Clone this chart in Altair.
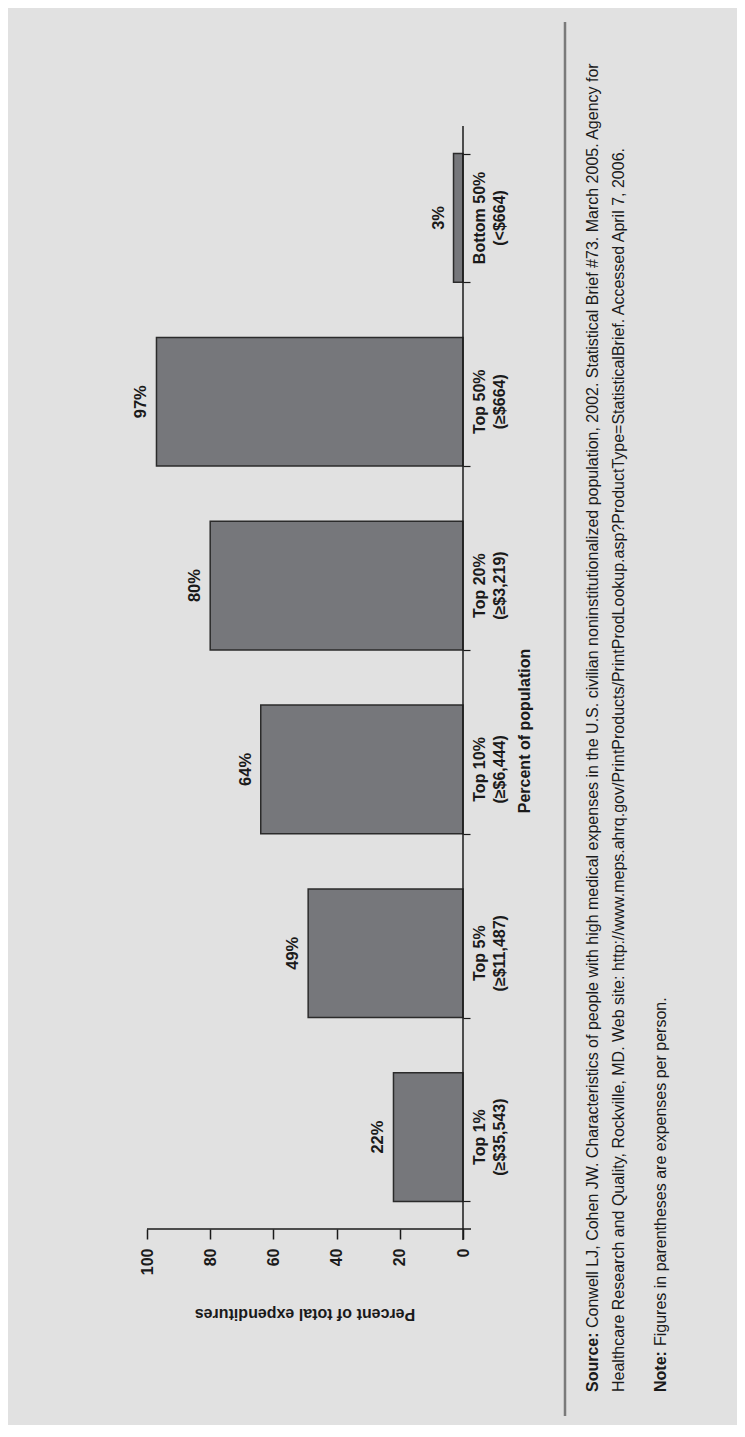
import altair as alt
import pandas as pd

# ---- data ----
groups = ["Bottom 50%", "Top 50%", "Top 20%", "Top 10%", "Top 5%", "Top 1%"]
thresholds = ["(<$664)", "(≥$664)", "(≥$3,219)", "(≥$6,444)", "(≥$11,487)", "(≥$35,543)"]
shares = [3, 97, 80, 64, 49, 22]
value_ticks = [0, 20, 40, 60, 80, 100]

source_bold = "Source:"
source_line1 = ("Conwell LJ, Cohen JW. Characteristics of people with high medical expenses in the U.S. "
                "civilian noninstitutionalized population, 2002. Statistical Brief #73. March 2005. Agency for")
source_line2 = ("Healthcare Research and Quality, Rockville, MD. Web site: http://www.meps.ahrq.gov/PrintProducts/"
                "PrintProdLookup.asp?ProductType=StatisticalBrief. Accessed April 7, 2006.")
note_bold = "Note:"
note_text = "Figures in parentheses are expenses per person."
x_title = "Percent of population"
y_title = "Percent of total expenditures"

df = pd.DataFrame({"group": groups, "threshold": thresholds, "share": shares})
df["label"] = df["share"].astype(str) + "%"
df["cat_label"] = df["group"] + "\n" + df["threshold"]

W, H = 316, 1103
FONT = "Liberation Sans"
INK = "#1a1a1a"

xscale = alt.Scale(domain=[0, 100], reverse=True)
yscale = alt.Scale(domain=groups, paddingInner=0.3, paddingOuter=0.15)

base = alt.Chart(df)

bars = base.mark_bar(color="#76777b", stroke="#2b2b2b", strokeWidth=1.5).encode(
    x=alt.X("share:Q", scale=xscale,
            axis=alt.Axis(values=value_ticks, title=None, labelAngle=270, labelAlign="right",
                          labelBaseline="middle", labelFont=FONT, labelFontSize=16,
                          labelFontWeight="bold", labelColor=INK, tickColor=INK, tickSize=10,
                          tickWidth=1.5, labelPadding=9, domain=False, grid=False)),
    y=alt.Y("group:N", scale=yscale, sort=groups,
            axis=alt.Axis(orient="right", labels=False, title=None, tickBand="extent",
                          tickSize=7, tickColor=INK, tickWidth=1.2, domain=False, grid=False)),
)

value_labels = base.mark_text(angle=270, align="center", baseline="middle", dy=-15,
                              font=FONT, fontSize=16.5, fontWeight="bold", color=INK).encode(
    x=alt.X("share:Q", scale=xscale),
    y=alt.Y("group:N", scale=yscale, sort=groups),
    text="label:N",
)

cat_labels = base.mark_text(angle=270, align="center", baseline="top", lineBreak="\n",
                            lineHeight=20, font=FONT, fontSize=16, fontWeight="bold",
                            color=INK).encode(
    x=alt.value(W + 9),
    y=alt.Y("group:N", scale=yscale, sort=groups),
    text="cat_label:N",
)

one = alt.Chart(pd.DataFrame({"k": [0]}))

x_axis_line = one.mark_rule(color=INK, strokeWidth=1.5).encode(
    x=alt.value(0), x2=alt.value(W + 8), y=alt.value(H))
y_axis_line = one.mark_rule(color=INK, strokeWidth=1.5).encode(
    x=alt.value(W), y=alt.value(0), y2=alt.value(H + 11))
separator = one.mark_rule(color="#7a7a7a", strokeWidth=2.5).encode(
    x=alt.value(418), y=alt.value(-104), y2=alt.value(1290))

ytitle = one.mark_text(angle=180, align="center", baseline="middle", font=FONT, fontSize=16,
                       fontWeight="bold", color=INK).encode(
    x=alt.value(158), y=alt.value(1188), text=alt.value(y_title))
xtitle = one.mark_text(angle=270, align="center", baseline="middle", font=FONT, fontSize=16,
                       fontWeight="bold", color=INK).encode(
    x=alt.value(378), y=alt.value(605), text=alt.value(x_title))

def txt(s, x, y, bold=False, dx=0):
    return one.mark_text(angle=270, align="left", baseline="middle", font=FONT, fontSize=16,
                         fontWeight="bold" if bold else "normal", color=INK, dx=dx).encode(
        x=alt.value(x), y=alt.value(y), text=alt.value(s))

src1b = txt(source_bold, 446, 1266, bold=True)
src1 = txt(source_line1, 446, 1266, dx=64)
src2 = txt(source_line2, 472, 1266)
note_b = txt(note_bold, 514, 1266, bold=True)
note = txt(note_text, 514, 1266, dx=46)

chart = alt.layer(
    bars, value_labels, cat_labels, x_axis_line, y_axis_line, separator,
    ytitle, xtitle, src1b, src1, src2, note_b, note
).properties(
    width=W, height=H,
    autosize="none",
    padding={"left": 139, "top": 118, "right": 274, "bottom": 196},
    background="#e1e1e1",
).configure_view(stroke=None)

chart.save("out.html", embed_options={"renderer": "svg", "actions": False})
